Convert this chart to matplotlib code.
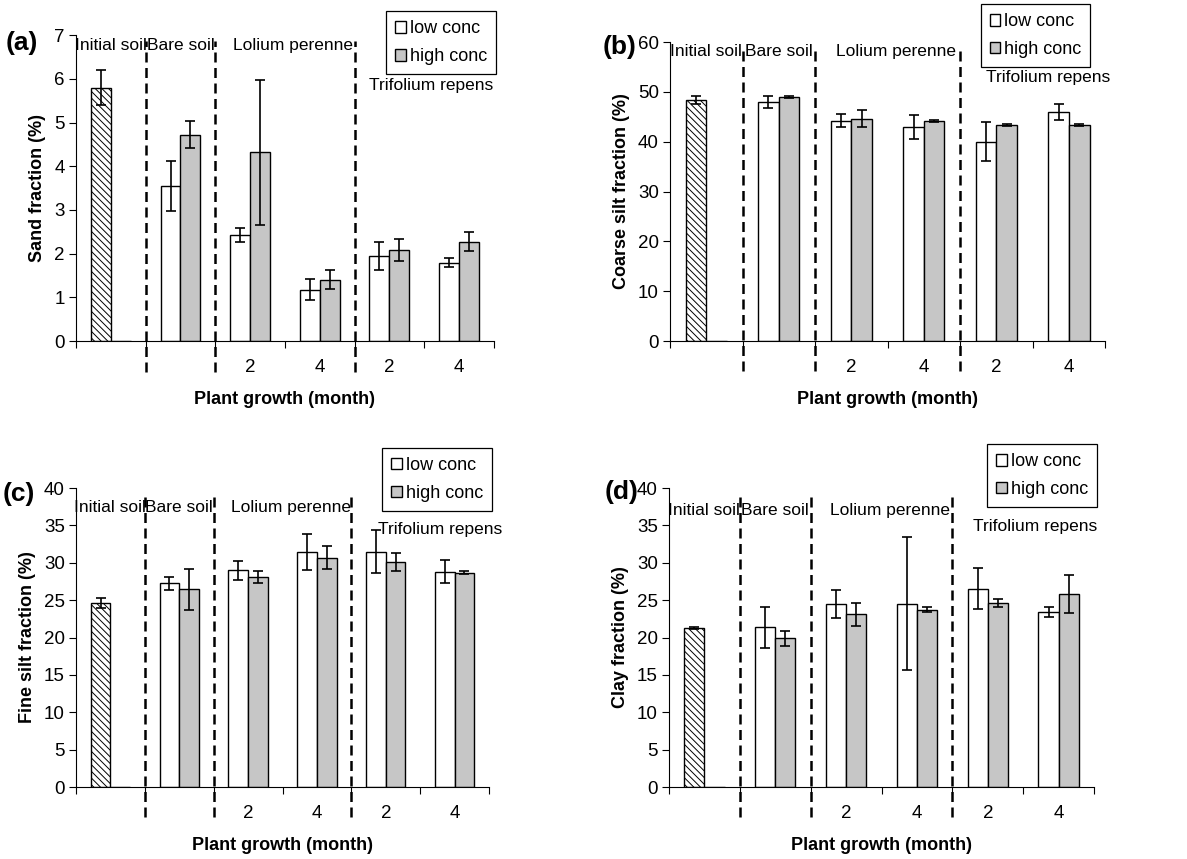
import matplotlib
matplotlib.use("Agg")
import matplotlib.pyplot as plt
from matplotlib.patches import Patch
import numpy as np

plt.rcParams['font.family'] = ['Liberation Sans', 'DejaVu Sans']

# categories: Initial soil, Bare soil, Lolium 2, Lolium 4, Trifolium 2, Trifolium 4
month_labels = ['', '', '2', '4', '2', '4']

# (a) sand fraction
sand_low = [5.80, 3.55, 2.43, 1.17, 1.95, 1.79]
sand_low_err = [0.40, 0.58, 0.16, 0.24, 0.32, 0.10]
sand_high = [0, 4.72, 4.32, 1.40, 2.08, 2.27]
sand_high_err = [0, 0.31, 1.66, 0.22, 0.25, 0.22]

# (b) coarse silt fraction
coarse_low = [48.4, 47.9, 44.2, 43.0, 40.0, 46.0]
coarse_low_err = [0.75, 1.2, 1.3, 2.4, 3.9, 1.6]
coarse_high = [0, 49.0, 44.6, 44.2, 43.3, 43.3]
coarse_high_err = [0, 0.25, 1.7, 0.2, 0.2, 0.2]

# (c) fine silt fraction
fine_low = [24.65, 27.24, 29.0, 31.4, 31.5, 28.8]
fine_low_err = [0.7, 0.87, 1.25, 2.4, 2.9, 1.55]
fine_high = [0, 26.44, 28.09, 30.67, 30.05, 28.67]
fine_high_err = [0, 2.75, 0.83, 1.55, 1.2, 0.2]

# (d) clay fraction
clay_low = [21.31, 21.35, 24.48, 24.52, 26.53, 23.41]
clay_low_err = [0.15, 2.74, 1.9, 8.9, 2.75, 0.7]
clay_high = [0, 19.88, 23.09, 23.72, 24.6, 25.81]
clay_high_err = [0, 1.0, 1.5, 0.35, 0.5, 2.5]

panels = [
    dict(tag='(a)', low=sand_low, lerr=sand_low_err, high=sand_high, herr=sand_high_err,
         ylabel='Sand fraction (%)', ymax=7, step=1,
         rect=[0.064, 0.603, 0.352, 0.356], letter=(0.005, 0.950),
         leg=(1.005, 1.078), ytxt=0.965, ytri=0.837, xtri=5.1),
    dict(tag='(b)', low=coarse_low, lerr=coarse_low_err, high=coarse_high, herr=coarse_high_err,
         ylabel='Coarse silt fraction (%)', ymax=60, step=10,
         rect=[0.5645, 0.603, 0.3665, 0.348], letter=(0.508, 0.945),
         leg=(0.966, 1.127), ytxt=0.97, ytri=0.883, xtri=5.22),
    dict(tag='(c)', low=fine_low, lerr=fine_low_err, high=fine_high, herr=fine_high_err,
         ylabel='Fine silt fraction (%)', ymax=40, step=5,
         rect=[0.064, 0.0838, 0.348, 0.348], letter=(0.002, 0.425),
         leg=(1.007, 1.134), ytxt=0.936, ytri=0.86, xtri=5.29),
    dict(tag='(d)', low=clay_low, lerr=clay_low_err, high=clay_high, herr=clay_high_err,
         ylabel='Clay fraction (%)', ymax=40, step=5,
         rect=[0.5636, 0.0838, 0.3581, 0.348], letter=(0.509, 0.427),
         leg=(1.007, 1.147), ytxt=0.926, ytri=0.87, xtri=5.17),
]

fig = plt.figure(figsize=(11.87, 8.59), dpi=100)
w = 0.285
x = np.arange(6) + 0.5
gray = '#c6c6c6'
plt.rcParams['hatch.linewidth'] = 0.7
fs = 13

for p in panels:
    ax = fig.add_axes(p['rect'])
    bars = ax.bar(x - w / 2, p['low'], w, color='white', edgecolor='black', linewidth=1.0, zorder=2)
    bars[0].set_hatch('\\\\\\\\\\')
    ax.bar(x + w / 2, p['high'], w, color=gray, edgecolor='black', linewidth=1.0, zorder=2)
    ax.errorbar(x - w / 2, p['low'], yerr=p['lerr'], fmt='none', ecolor='black',
                elinewidth=1.2, capsize=3.5, capthick=1.2, zorder=3)
    herr = np.array(p['herr'])
    ax.errorbar((x + w / 2)[1:], p['high'][1:], yerr=herr[1:], fmt='none', ecolor='black',
                elinewidth=1.2, capsize=3.5, capthick=1.2, zorder=3)

    ax.set_xlim(0, 6)
    ax.set_ylim(0, p['ymax'])
    ax.set_yticks(np.arange(0, p['ymax'] + 0.1, p['step']))
    ax.set_xticks(np.arange(7))
    ax.set_xticklabels([''] * 7)
    ax.set_xticks(x, minor=True)
    ax.set_xticklabels(month_labels, minor=True, fontsize=fs + 0.5)
    ax.tick_params(axis='x', which='minor', length=0, pad=13)
    ax.tick_params(axis='x', which='major', length=5, width=0.8)
    ax.tick_params(axis='y', length=5, width=0.8, labelsize=fs + 0.5, pad=3)
    for s in ['top', 'right']:
        ax.spines[s].set_visible(False)
    ax.spines['left'].set_linewidth(0.8)
    ax.spines['bottom'].set_linewidth(0.8)

    ax.set_ylabel(p['ylabel'], fontsize=fs, fontweight='bold', labelpad=6)
    ax.set_xlabel('Plant growth (month)', fontsize=fs, fontweight='bold', labelpad=11)

    for xb in [1, 2, 4]:
        ax.plot([xb, xb], [-0.1, 0.98], transform=ax.get_xaxis_transform(), color='black',
                lw=1.8, dashes=(4, 2.2), clip_on=False, zorder=4)

    tr = ax.get_xaxis_transform()
    gs = 12.5
    ax.text(0.5, p['ytxt'], 'Initial soil', transform=tr, ha='center', va='center', fontsize=gs)
    ax.text(1.5, p['ytxt'], 'Bare soil', transform=tr, ha='center', va='center', fontsize=gs)
    ax.text(3.12, p['ytxt'], 'Lolium perenne', transform=tr, ha='center', va='center', fontsize=gs)
    ax.text(p['xtri'], p['ytri'], 'Trifolium repens', transform=tr, ha='center', va='center', fontsize=gs)

    handles = [Patch(facecolor='white', edgecolor='black', linewidth=1.0),
               Patch(facecolor=gray, edgecolor='black', linewidth=1.0)]
    leg = ax.legend(handles, ['low conc', 'high conc'], loc='upper right',
                    bbox_to_anchor=p['leg'], borderaxespad=0, fontsize=fs,
                    handlelength=0.6, handleheight=0.6, handletextpad=0.2,
                    labelspacing=0.6, borderpad=0.5, fancybox=False, framealpha=1,
                    edgecolor='black')
    leg.get_frame().set_linewidth(0.9)

    fig.text(p['letter'][0], p['letter'][1], p['tag'], fontsize=19, fontweight='bold',
             ha='left', va='center')

fig.savefig('out.png', dpi=100)
